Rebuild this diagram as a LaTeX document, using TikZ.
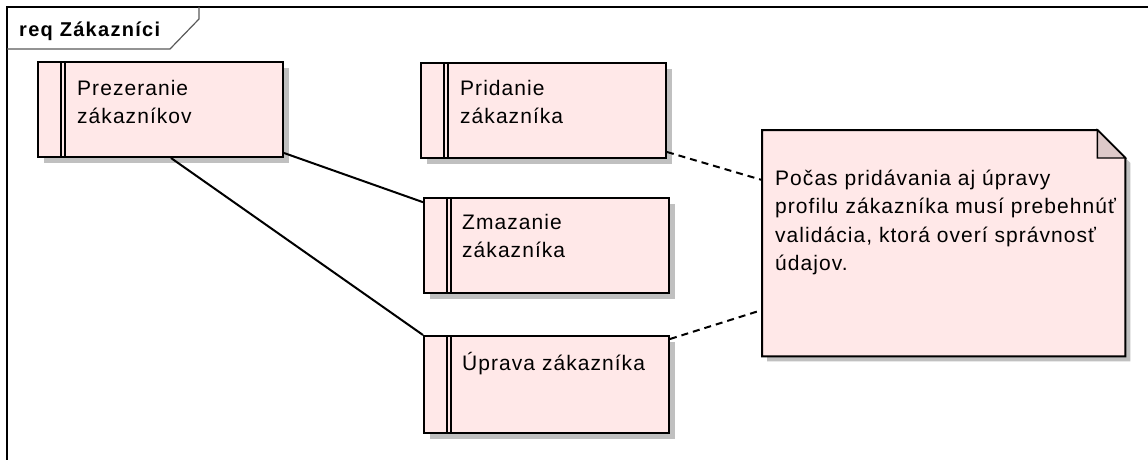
\documentclass[tikz,border=0pt]{standalone}
\usepackage{fontspec}
\setmainfont{Liberation Sans}[LetterSpace=5]
\usetikzlibrary{calc,shadows}
\definecolor{boxfill}{RGB}{255,232,232}
\definecolor{shadowgray}{RGB}{192,192,192}
\definecolor{foldfill}{RGB}{221,201,201}
\definecolor{tabline}{RGB}{90,90,90}
\tikzset{
  ucbox/.style={draw=black, line width=2pt, fill=boxfill,
    minimum width=245pt, minimum height=95pt, inner sep=0pt, anchor=north west,
    drop shadow={shadow xshift=6pt, shadow yshift=-6pt, fill=shadowgray, opacity=1},
    path picture={
      \draw[line width=1.6pt] ([xshift=23pt]path picture bounding box.north west) -- ([xshift=23pt]path picture bounding box.south west);
      \draw[line width=1.6pt] ([xshift=27pt]path picture bounding box.north west) -- ([xshift=27pt]path picture bounding box.south west);
    }},
  lbl/.style={anchor=north west, inner sep=0pt, align=left,
    font=\fontsize{21pt}{28.5pt}\selectfont},
  conn/.style={draw=black, line width=2pt},
  dconn/.style={draw=black, line width=2pt, dash pattern=on 7pt off 5pt},
  framestyle/.style={draw=black, line width=2pt},
}
\begin{document}
\begin{tikzpicture}[x=1pt,y=-1pt]
\useasboundingbox (0,0) rectangle (1148,460);
\fill[white] (0,0) rectangle (1148,460);
% frame
\draw[framestyle] (7,460) -- (7,7) -- (1148,7);
\draw[tabline, line width=1.2pt] (7,49) -- (170,49) -- (199,19) -- (199,7);
\node[anchor=base west, inner sep=0pt, font=\fontsize{20pt}{24pt}\selectfont\bfseries\addfontfeatures{LetterSpace=6.5}] (title) at (19,37) {req Zákazníci};

% use case boxes
\node[ucbox] (p) at (37,61) {};
\node[ucbox] (pr) at (420,62) {};
\node[ucbox] (z) at (423,197) {};
\node[ucbox, minimum height=97pt] (u) at (423,335) {};

\node[lbl] (pt) at ($(p.north west)+(40,14)$) {\rule{0pt}{20pt}Prezeranie\\zákazníkov};
\node[lbl] (prt) at ($(pr.north west)+(40,13)$) {\rule{0pt}{20pt}Pridanie\\zákazníka};
\node[lbl] (zt) at ($(z.north west)+(39,12)$) {\rule{0pt}{20pt}Zmazanie\\zákazníka};
\node[lbl] (ut) at ($(u.north west)+(39,15)$) {\rule{0pt}{20pt}Úprava zákazníka};

% note
\node[draw=none, fill=none, minimum width=363pt, minimum height=226pt, inner sep=0pt, anchor=north west] (n) at (762,130) {};
\fill[shadowgray] ($(n.north west)+(5,5)$) -- ($(n.north east)+(-23,5)$) -- ($(n.north east)+(5,33)$) -- ($(n.south east)+(5,5)$) -- ($(n.south west)+(5,5)$) -- cycle;
\draw[line width=2pt, fill=boxfill, line join=miter] (n.north west) -- ($(n.north east)+(-28,0)$) -- ($(n.north east)+(0,28)$) -- (n.south east) -- (n.south west) -- cycle;
\draw[line width=1.4pt, fill=foldfill] ($(n.north east)+(-28,0)$) -- ($(n.north east)+(-28,28)$) -- ($(n.north east)+(0,28)$) -- cycle;
\node[lbl] (nt) at ($(n.north west)+(13,35)$) {\rule{0pt}{20pt}Počas pridávania aj úpravy\\profilu zákazníka musí prebehnúť\\validácia, ktorá overí správnosť\\údajov.};

% connectors
\draw[conn] (p) -- (z);
\draw[conn] ($(p.south west)+(134,0)$) -- (u.north west);
\draw[dconn] ($(pr.south east)+(0,-7)$) -- ($(n.north west)+(0,50)$);
\draw[dconn] ($(u.north east)+(0,4)$) -- ($(n.north west)+(0,180)$);
\end{tikzpicture}
\end{document}
